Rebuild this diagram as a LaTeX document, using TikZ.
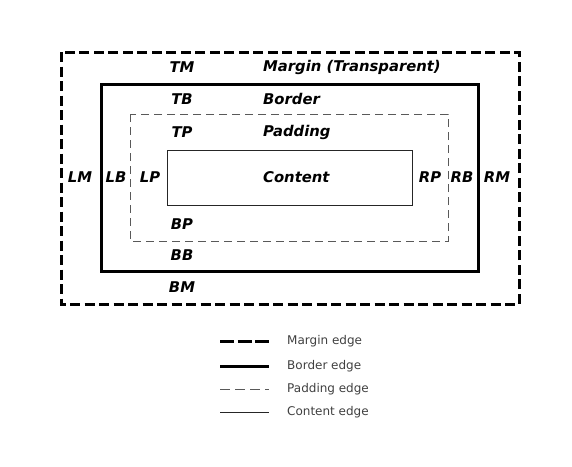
\documentclass[tikz,border=0pt]{standalone}
\usepackage{fontspec}
\setmainfont{DejaVu Sans}
\newfontfamily\lblfont{DejaVu Sans Bold Oblique}
\begin{document}
\begin{tikzpicture}[x=1pt,y=-1pt,
  lbl/.style={font=\lblfont\fontsize{14.8}{17}\selectfont, text=black, inner sep=0pt},
  leg/.style={font=\fontsize{12}{14}\selectfont, text=black!75, anchor=west, inner sep=0pt},
  marginedge/.style={line width=3pt, dash pattern=on 10pt off 4.5pt, black},
  borderedge/.style={line width=3pt, black},
  paddingedge/.style={line width=0.9pt, dash pattern=on 8pt off 5pt, black!65},
  contentedge/.style={line width=0.9pt, black!85}]
\useasboundingbox (0,0) rectangle (572,466);
% boxes
\draw[marginedge] (61,52) rectangle (519,304);
\draw[borderedge] (101,84) rectangle (478,271);
\draw[paddingedge] (130,114) rectangle (448,241);
\node[draw, contentedge, minimum width=245pt, minimum height=55pt, inner sep=0pt] (content) at (289.5,177.5) {};
% labels
\node[lbl] (tm) at (182,67) {TM};
\node[lbl, anchor=west] (mt) at (263,67) {Margin (Transparent)};
\node[lbl] (tb) at (182,99) {TB};
\node[lbl, anchor=west] (bt) at (263,99) {Border};
\node[lbl] (tp) at (182,132) {TP};
\node[lbl, anchor=west] (pt) at (263,132) {Padding};
\node[lbl, anchor=west] (ct) at (263,177) {Content};
\node[lbl] (bp) at (182,224) {BP};
\node[lbl] (bb) at (182,255) {BB};
\node[lbl] (bm) at (182,287) {BM};
\node[lbl] (lm) at (80,177) {LM};
\node[lbl] (lb) at (116,177) {LB};
\node[lbl] (lp) at (150,177) {LP};
\node[lbl] (rp) at (430,177) {RP};
\node[lbl] (rb) at (462,177) {RB};
\node[lbl] (rm) at (497,177) {RM};
% legend
\coordinate (m1) at (220,341); \coordinate (m2) at (269,341);
\coordinate (b1) at (220,366); \coordinate (b2) at (269,366);
\coordinate (p1) at (220,389); \coordinate (p2) at (269,389);
\coordinate (c1) at (220,412); \coordinate (c2) at (269,412);
\draw[line width=3pt, dash pattern=on 14pt off 3.5pt, black] (m1) -- (m2);
\draw[borderedge] (b1) -- (b2);
\draw[paddingedge, dash pattern=on 10pt off 5pt] (p1) -- (p2);
\draw[contentedge] (c1) -- (c2);
\node[leg] (lm1) at (287,341) {Margin edge};
\node[leg] (lb1) at (287,366) {Border edge};
\node[leg] (lp1) at (287,389) {Padding edge};
\node[leg] (lc1) at (287,412) {Content edge};
\end{tikzpicture}
\end{document}
